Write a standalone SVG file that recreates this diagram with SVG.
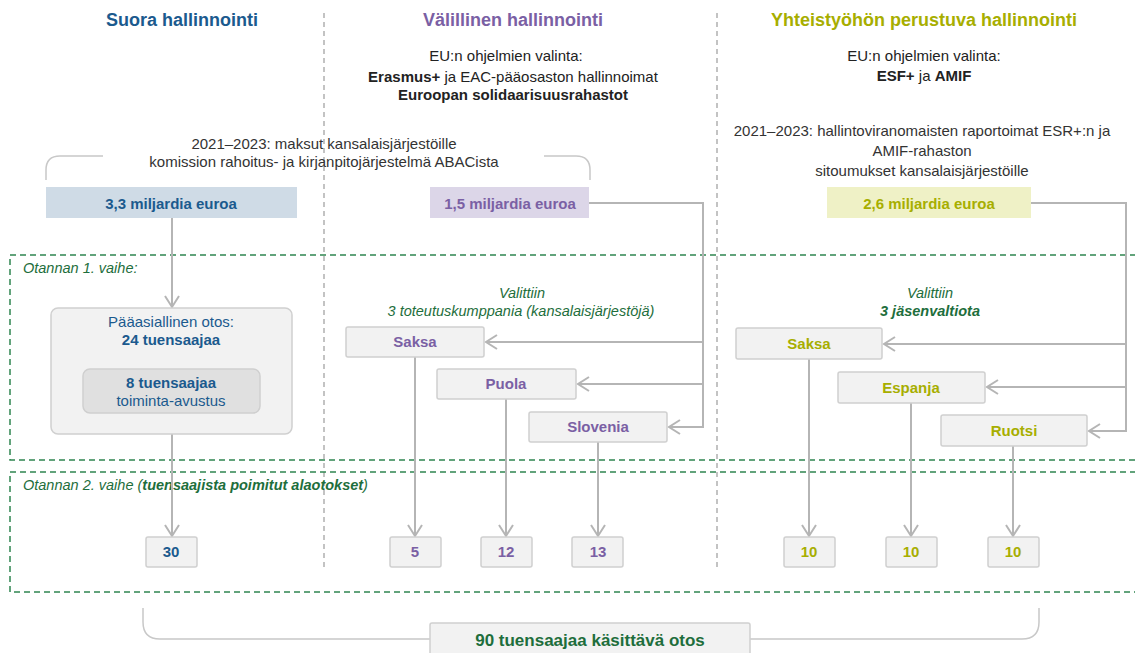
<svg xmlns="http://www.w3.org/2000/svg" width="1135" height="653" viewBox="0 0 1135 653">
<style>
text{font-family:"Liberation Sans",Arial,sans-serif;}
.t{font-size:18px;font-weight:bold;text-anchor:middle;}
.b{font-size:15px;fill:#222;text-anchor:middle;}
.g{font-size:15px;fill:#333;text-anchor:middle;}
.bold{font-weight:bold;}
.gi{font-size:14.5px;fill:#1e6e3c;font-style:italic;}
.nl{font-size:15px;font-weight:bold;text-anchor:middle;}
.tot{font-size:17px;font-weight:bold;text-anchor:middle;fill:#1e6e3c;}
.blue{fill:#1b5a8e;}
.pur{fill:#7a60a4;}
.olv{fill:#a7ae00;}
.node{fill:#f2f2f2;stroke:#d0d0d0;stroke-width:1.5;}
.conn{fill:none;stroke:#b5b5b5;stroke-width:2;}
.br{fill:none;stroke:#c8c8c8;stroke-width:1.5;}
.div{fill:none;stroke:#b0b0b0;stroke-width:1.5;stroke-dasharray:5 4;}
.gd{fill:none;stroke:#2f8550;stroke-width:1.5;stroke-dasharray:6 4;}
</style>
<defs>
<marker id="ar" markerUnits="userSpaceOnUse" markerWidth="16" markerHeight="18" refX="13" refY="9" orient="auto">
<path d="M2,2 L13,9 L2,16" fill="none" stroke="#b5b5b5" stroke-width="2"/>
</marker>
</defs>

<g id="dividers">
<line class="div" x1="324" y1="13" x2="324" y2="570"/>
<line class="div" x1="717" y1="13" x2="717" y2="570"/>
</g>

<g id="stages">
<rect class="gd" x="10" y="255" width="1135" height="205"/>
<rect class="gd" x="10" y="472" width="1135" height="120"/>
<text class="gi" x="23" y="273">Otannan 1. vaihe:</text>
<text class="gi" x="23" y="490">Otannan 2. vaihe (<tspan font-weight="bold">tuensaajista poimitut alaotokset</tspan>)</text>
</g>

<g id="headers">
<text class="t blue" x="182" y="26">Suora hallinnointi</text>
<text class="t pur" x="513" y="26">Välillinen hallinnointi</text>
<text class="t olv" x="924" y="26">Yhteistyöhön perustuva hallinnointi</text>
<text class="b" x="506" y="61">EU:n ohjelmien valinta:</text>
<text class="b" x="513" y="82"><tspan font-weight="bold">Erasmus+</tspan> ja EAC-pääosaston hallinnoimat</text>
<text class="b bold" x="513" y="100">Euroopan solidaarisuusrahastot</text>
<text class="b" x="924" y="61">EU:n ohjelmien valinta:</text>
<text class="b" x="924" y="81"><tspan font-weight="bold">ESF+</tspan> ja <tspan font-weight="bold">AMIF</tspan></text>
<text class="g" x="324" y="149">2021–2023: maksut kansalaisjärjestöille</text>
<text class="g" x="324" y="167">komission rahoitus- ja kirjanpitojärjestelmä ABACista</text>
<text class="g" x="922" y="136">2021–2023: hallintoviranomaisten raportoimat ESR+:n ja</text>
<text class="g" x="922" y="156">AMIF-rahaston</text>
<text class="g" x="922" y="176">sitoumukset kansalaisjärjestöille</text>
<path class="br" d="M46,180 L46,170 Q46,156 60,156 L103,156"/>
<path class="br" d="M544,156 L576,156 Q590,156 590,170 L590,180"/>
<text class="gi" x="522" y="298" text-anchor="middle">Valittiin</text>
<text class="gi" x="521" y="316" text-anchor="middle">3 toteutuskumppania (kansalaisjärjestöjä)</text>
<text class="gi" x="930" y="298" text-anchor="middle">Valittiin</text>
<text class="gi" x="930" y="316" text-anchor="middle" font-weight="bold">3 jäsenvaltiota</text>
</g>

<g id="connectors">
<path class="conn" d="M172,218 L172,307" marker-end="url(#ar)"/>
<path class="conn" d="M172,434 L172,536" marker-end="url(#ar)"/>
<path class="conn" d="M589,203 L703,203 L703,427 L669,427" marker-end="url(#ar)"/>
<path class="conn" d="M703,342 L486,342" marker-end="url(#ar)"/>
<path class="conn" d="M703,384 L578,384" marker-end="url(#ar)"/>
<path class="conn" d="M1031,203 L1126,203 L1126,431 L1089,431" marker-end="url(#ar)"/>
<path class="conn" d="M1126,344 L884,344" marker-end="url(#ar)"/>
<path class="conn" d="M1126,387 L987,387" marker-end="url(#ar)"/>
<path class="conn" d="M415,357 L415,536" marker-end="url(#ar)"/>
<path class="conn" d="M506,399 L506,536" marker-end="url(#ar)"/>
<path class="conn" d="M598,442 L598,536" marker-end="url(#ar)"/>
<path class="conn" d="M809,359 L809,536" marker-end="url(#ar)"/>
<path class="conn" d="M911,403 L911,536" marker-end="url(#ar)"/>
<path class="conn" d="M1013,446 L1013,536" marker-end="url(#ar)"/>
<path class="br" d="M143,608 L143,622 Q143,639 160,639 L430,639"/>
<path class="br" d="M750,639 L1022,639 Q1039,639 1039,622 L1039,608"/>
</g>

<g id="n-blue">
<rect x="46" y="187" width="251" height="31" fill="#cfdbe6"/>
<text class="nl blue" x="171" y="209">3,3 miljardia euroa</text>
</g>
<g id="n-purple">
<rect x="430" y="187" width="159" height="31" fill="#dcd6e8"/>
<text class="nl pur" x="510" y="209">1,5 miljardia euroa</text>
</g>
<g id="n-olive">
<rect x="827" y="187" width="204" height="31" fill="#eff1c6"/>
<text class="nl olv" x="929" y="209">2,6 miljardia euroa</text>
</g>

<g id="n-main">
<rect class="node" x="51" y="308" width="241" height="126" rx="7"/>
<text class="b blue" x="171" y="327">Pääasiallinen otos:</text>
<text class="nl blue" x="171" y="345">24 tuensaajaa</text>
<rect x="83" y="369" width="177" height="44" rx="7" fill="#e0e0e0" stroke="#cfcfcf" stroke-width="1.5"/>
<text class="nl blue" x="171" y="388">8 tuensaajaa</text>
<text class="b blue" x="171" y="406">toiminta-avustus</text>
</g>

<g id="n-saksa-p"><rect class="node" x="346" y="327" width="138" height="30" rx="2"/><text class="nl pur" x="415" y="347">Saksa</text></g>
<g id="n-puola"><rect class="node" x="437" y="369" width="139" height="30" rx="2"/><text class="nl pur" x="506" y="389">Puola</text></g>
<g id="n-slovenia"><rect class="node" x="529" y="412" width="138" height="30" rx="2"/><text class="nl pur" x="598" y="432">Slovenia</text></g>

<g id="n-saksa-o"><rect class="node" x="736" y="328" width="146" height="31" rx="2"/><text class="nl olv" x="809" y="349">Saksa</text></g>
<g id="n-espanja"><rect class="node" x="838" y="372" width="147" height="31" rx="2"/><text class="nl olv" x="911" y="393">Espanja</text></g>
<g id="n-ruotsi"><rect class="node" x="941" y="415" width="146" height="31" rx="2"/><text class="nl olv" x="1014" y="436">Ruotsi</text></g>

<g id="n-30"><rect class="node" x="146" y="537" width="51" height="30" rx="2"/><text class="nl blue" x="171" y="557">30</text></g>
<g id="n-5"><rect class="node" x="390" y="537" width="51" height="30" rx="2"/><text class="nl pur" x="415" y="557">5</text></g>
<g id="n-12"><rect class="node" x="481" y="537" width="51" height="30" rx="2"/><text class="nl pur" x="506" y="557">12</text></g>
<g id="n-13"><rect class="node" x="572" y="537" width="51" height="30" rx="2"/><text class="nl pur" x="598" y="557">13</text></g>
<g id="n-10a"><rect class="node" x="784" y="537" width="51" height="30" rx="2"/><text class="nl olv" x="809" y="557">10</text></g>
<g id="n-10b"><rect class="node" x="886" y="537" width="51" height="30" rx="2"/><text class="nl olv" x="911" y="557">10</text></g>
<g id="n-10c"><rect class="node" x="988" y="537" width="51" height="30" rx="2"/><text class="nl olv" x="1013" y="557">10</text></g>

<g id="n-total">
<rect class="node" x="430" y="623" width="320" height="40" rx="2"/>
<text class="tot" x="590" y="646">90 tuensaajaa käsittävä otos</text>
</g>
</svg>
